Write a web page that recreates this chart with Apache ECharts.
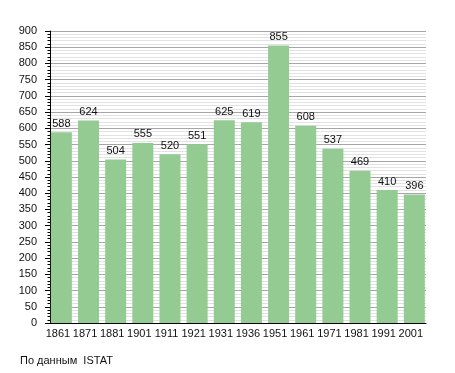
<!DOCTYPE html>
<html>
<head>
<meta charset="utf-8">
<script src="https://cdn.jsdelivr.net/npm/echarts@6/dist/echarts.min.js"></script>
<style>html,body{margin:0;padding:0;background:#fff}#c{width:455px;height:373px}</style>
</head>
<body>
<div id="c"></div>
<script>
const categories = ['1861','1871','1881','1901','1911','1921','1931','1936','1951','1961','1971','1981','1991','2001'];
const population = [588, 624, 504, 555, 520, 551, 625, 619, 855, 608, 537, 469, 410, 396];
const yMin = 0, yMax = 900, yStep = 50;
const sourceNote = 'По данным  ISTAT';

const font = 'Liberation Sans, Arial, sans-serif';
const chart = echarts.init(document.getElementById('c'), null, {renderer: 'canvas'});
chart.setOption({
  animation: false,
  backgroundColor: '#fff',
  textStyle: {fontFamily: font},
  graphic: [{type: 'text', left: 20, top: 355, style: {text: sourceNote, font: '11px ' + font, fill: '#111'}}],
  grid: [
    {left: 50, right: 29, top: 31, bottom: 50},
    {left: 47.8, right: 27.1, top: 31, bottom: 50}
  ],
  xAxis: [
    {gridIndex: 0, type: 'category', data: categories, boundaryGap: true,
     axisLine: {show: true, lineStyle: {color: '#000', width: 1}}, axisTick: {show: false}, axisLabel: {show: false}},
    {gridIndex: 1, type: 'category', data: categories,
     axisLine: {show: false}, axisTick: {show: false},
     axisLabel: {show: true, color: '#111', fontSize: 11, fontFamily: font, margin: 5, interval: 0, padding: [0, 7, 0, 0]}}
  ],
  yAxis: [
    {gridIndex: 0, type: 'value', min: yMin, max: yMax, interval: yStep,
     axisLine: {show: true, lineStyle: {color: '#000', width: 1}},
     axisTick: {show: true, length: 5, lineStyle: {color: '#000'}},
     minorTick: {show: true, splitNumber: 5, length: 2.5, lineStyle: {color: '#000'}},
     axisLabel: {color: '#111', fontSize: 11, fontFamily: font, margin: 13},
     splitLine: {show: true, lineStyle: {color: '#a6a6a6', width: 1}},
     minorSplitLine: {show: true, lineStyle: {color: '#e2e2e2', width: 1}}},
    {gridIndex: 1, type: 'value', min: yMin, max: yMax, interval: yStep, show: false, splitLine: {show: false}}
  ],
  series: [{
    type: 'bar', xAxisIndex: 1, yAxisIndex: 1, data: population, barWidth: 21,
    itemStyle: {color: '#93cb93'},
    label: {show: true, position: 'top', distance: 3, color: '#111', fontSize: 11, fontFamily: font}
  }]
});
</script>
</body>
</html>
